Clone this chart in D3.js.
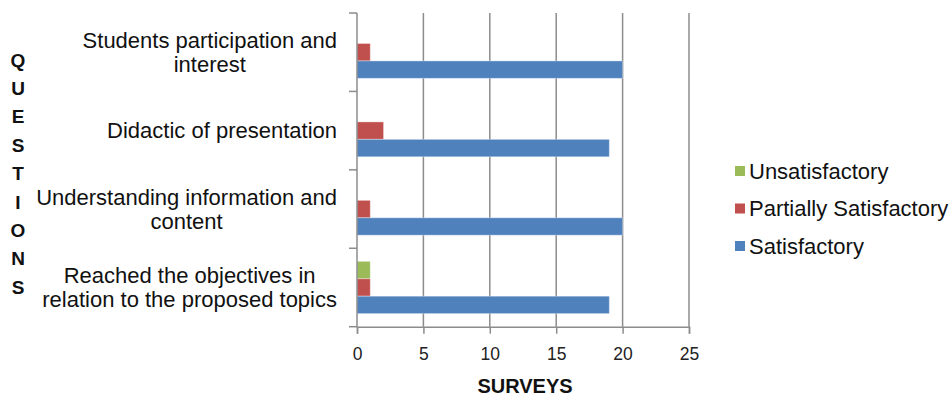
<!DOCTYPE html>
<html>
<head>
<meta charset="utf-8">
<script src="https://cdn.jsdelivr.net/npm/d3@7"></script>
<style>
    body { margin: 0; background: #fff; }
    svg { display: block; font-family: "Liberation Sans", Arial, sans-serif; }
</style>
</head>
<body>
<div id="holder"></div>
<script>
    // data
    const questions = [
        ["Students participation and", "interest"],
        ["Didactic of presentation"],
        ["Understanding information and", "content"],
        ["Reached the objectives in", "relation to the proposed topics"]
    ];
    const series = ["Unsatisfactory", "Partially Satisfactory", "Satisfactory"];
    const colors = ["#9BBB59", "#C0504D", "#4F81BD"];
    const unsatisfactory = [0, 0, 0, 1];
    const partially = [1, 2, 1, 1];
    const satisfactory = [20, 19, 20, 19];
    const xTicks = [0, 5, 10, 15, 20, 25];

    const w = 952, h = 398;
    const plotLeft = 357, plotRight = 689, plotTop = 13, plotBottom = 326.7;

    const svg = d3.select("#holder").append("svg")
        .attr("width", w)
        .attr("height", h);

    const keys = questions.map((q, i) => "q" + i);
    const rows = keys.map((k, i) => ({
        key: k,
        vals: [unsatisfactory[i], partially[i], satisfactory[i]]
    }));

    const xScale = d3.scaleLinear().domain([0, 25]).range([plotLeft, plotRight]);
    const yScale = d3.scaleBand().domain(keys).range([plotTop, plotBottom]);
    const ySub = d3.scaleBand().domain(series)
        .range([0, yScale.bandwidth()])
        .paddingOuter(0.75);

    // gridlines
    svg.append("g")
        .selectAll("line")
        .data(xTicks.slice(1))
        .enter()
        .append("line")
        .attr("x1", d => xScale(d))
        .attr("x2", d => xScale(d))
        .attr("y1", plotTop)
        .attr("y2", plotBottom)
        .attr("stroke", "#8c8c8c")
        .attr("stroke-width", 1.5);

    // bars
    const groups = svg.append("g")
        .selectAll("g")
        .data(rows)
        .enter()
        .append("g")
        .attr("transform", d => "translate(0," + yScale(d.key) + ")");

    groups.selectAll("rect")
        .data(d => d.vals.map((v, j) => ({ s: series[j], v: v, c: colors[j] })))
        .enter()
        .append("rect")
        .attr("x", xScale(0))
        .attr("y", d => ySub(d.s))
        .attr("width", d => xScale(d.v) - xScale(0))
        .attr("height", ySub.bandwidth())
        .attr("fill", d => d.c)
        .attr("stroke", "rgba(255,255,255,0.35)")
        .attr("stroke-width", 1)
        .style("display", d => d.v > 0 ? null : "none");

    //Axes
    const xAxis = d3.axisBottom(xScale).tickValues(xTicks).tickSize(7).tickPadding(14);
    const gx = svg.append("g")
        .attr("transform", "translate(0," + plotBottom + ")")
        .call(xAxis);
    gx.select(".domain").attr("stroke", "#8c8c8c").attr("stroke-width", 1.5);
    gx.selectAll(".tick line").attr("stroke", "#8c8c8c").attr("stroke-width", 1.5);
    gx.selectAll(".tick text")
        .attr("font-size", 17.5)
        .attr("fill", "#222")
        .style("font-family", "'Liberation Sans', Arial, sans-serif");

    const gy = svg.append("g")
        .attr("transform", "translate(" + plotLeft + ",0)");
    gy.append("line")
        .attr("y1", plotTop).attr("y2", plotBottom)
        .attr("stroke", "#8c8c8c").attr("stroke-width", 1.5);
    // category boundary ticks
    gy.selectAll("line.tk")
        .data(keys.map(k => yScale(k)).concat([plotBottom]))
        .enter()
        .append("line")
        .attr("class", "tk")
        .attr("x1", -8).attr("x2", 0)
        .attr("y1", d => d).attr("y2", d => d)
        .attr("stroke", "#8c8c8c").attr("stroke-width", 1.5);

    // category labels, lines centred on each other and block right aligned
    const labelRight = 337, lineH = 24;
    rows.forEach((r, i) => {
        const lines = questions[i];
        const cy = yScale(r.key) + yScale.bandwidth() / 2;
        const t = svg.append("text")
            .attr("font-size", 22)
            .attr("fill", "#111")
            .attr("text-anchor", "middle");
        lines.forEach((ln, j) => {
            t.append("tspan")
                .attr("y", cy + (j - (lines.length - 1) / 2) * lineH)
                .attr("dy", "0.35em")
                .text(ln);
        });
        let maxW = 0;
        t.selectAll("tspan").each(function() {
            maxW = Math.max(maxW, this.getComputedTextLength());
        });
        t.selectAll("tspan").attr("x", labelRight - maxW / 2);
    });

    // Y label, stacked letters
    const yLabel = "QUESTIONS".split("");
    svg.append("g")
        .selectAll("text")
        .data(yLabel)
        .enter()
        .append("text")
        .attr("x", 18)
        .attr("y", (d, i) => 60 + i * 28.4)
        .attr("dy", "0.35em")
        .attr("text-anchor", "middle")
        .attr("font-size", 19)
        .attr("font-weight", "bold")
        .attr("fill", "#111")
        .text(d => d);

    // X label
    svg.append("text")
        .attr("x", (plotLeft + plotRight) / 2 + 2)
        .attr("y", 393)
        .attr("text-anchor", "middle")
        .attr("font-size", 20)
        .attr("font-weight", "bold")
        .attr("fill", "#111")
        .text("SURVEYS");

    // Legend
    const legend = svg.append("g")
        .selectAll("g")
        .data(series)
        .enter()
        .append("g")
        .attr("transform", (d, i) => "translate(735," + (171 + i * 37.5) + ")");
    legend.append("rect")
        .attr("x", 0).attr("y", -5)
        .attr("width", 10).attr("height", 10)
        .attr("fill", (d, i) => colors[i]);
    legend.append("text")
        .attr("x", 14)
        .attr("dy", "0.35em")
        .attr("font-size", 22)
        .attr("fill", "#111")
        .text(d => d);
</script>
</body>
</html>
